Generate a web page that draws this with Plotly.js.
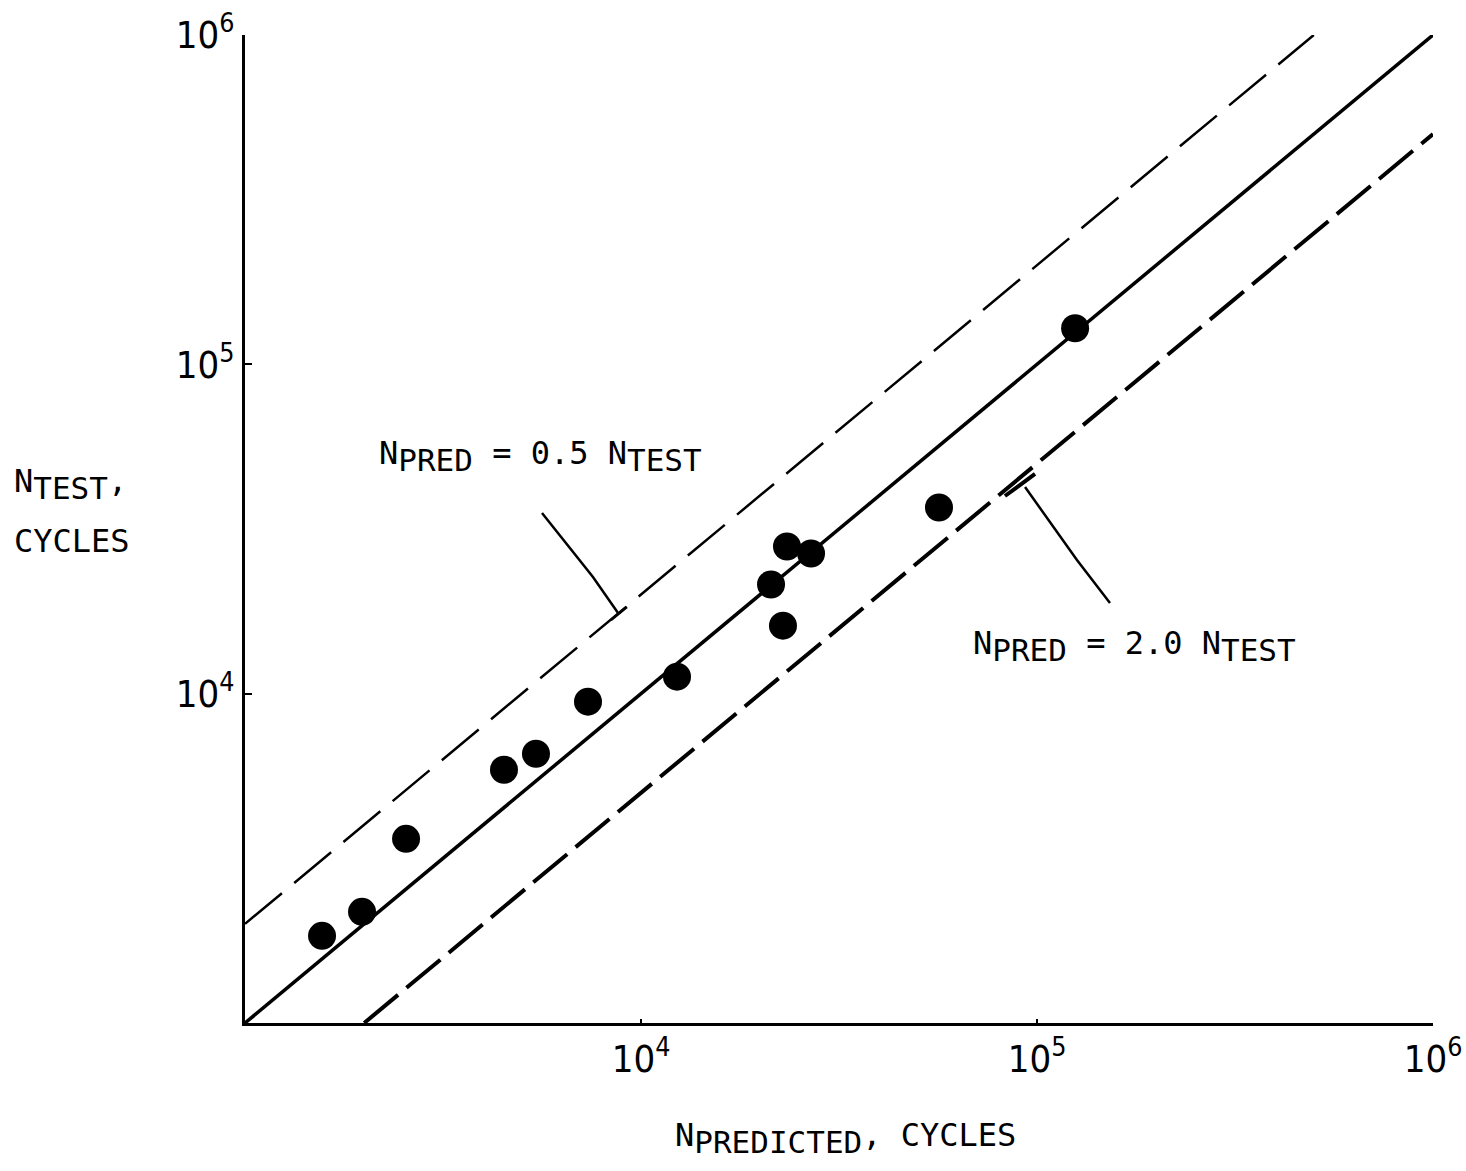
<!DOCTYPE html>
<html>
<head>
<meta charset="utf-8">
<script src="https://cdn.plot.ly/plotly-3.0.1.min.js"></script>
<style>
  html, body { margin: 0; padding: 0; background: #fff; }
  #chart { width: 1466px; height: 1171px; }
</style>
</head>
<body>
<div id="chart"></div>
<script>
// ---- data ----
const nPredicted = [1565, 1975, 2551, 4508, 5430, 7348, 12330, 21300, 23370, 26880, 22830, 56560, 124800];
const nTest      = [1839, 2175, 3625, 5875, 6570, 9456, 11260, 21450, 27980, 26640, 16090, 36750, 128700];

// reference lines N_PRED = k * N_TEST
const unityX = [1e3, 1e6];
const unityY = [1e3, 1e6];
const halfX  = [1e3, 5e5];     // N_PRED = 0.5 N_TEST
const halfY  = [2e3, 1e6];
const twiceX = [2e3, 1e6];     // N_PRED = 2.0 N_TEST
const twiceY = [1e3, 5e5];

const tickVals = [1e4, 1e5, 1e6];
const tickText = ['10<sup>4</sup>', '10<sup>5</sup>', '10<sup>6</sup>'];

const TICKFONT = '"Liberation Sans Narrow", "DejaVu Sans Condensed", "Liberation Sans", sans-serif';
const FONT = '"DejaVu Sans Mono", "Liberation Mono", monospace';
const SUB = (s) => '<sub><span style="font-size:31px">' + s + '</span></sub>';

const traces = [
  { x: unityX, y: unityY, mode: 'lines', line: { color: '#000', width: 3.5 }, hoverinfo: 'skip' },
  { x: halfX, y: halfY, mode: 'lines', line: { color: '#000', width: 2.5, dash: '48px,16px' }, hoverinfo: 'skip' },
  { x: twiceX, y: twiceY, mode: 'lines', line: { color: '#000', width: 4, dash: '44px,11px' }, hoverinfo: 'skip' },
  { x: nPredicted, y: nTest, mode: 'markers', marker: { color: '#000', size: 28 }, hoverinfo: 'x+y' }
];

// pixel -> paper helpers for annotation/leader placement
const L = 245, R = 1433, T = 35, B = 1023;
const px = (x) => (x - L) / (R - L);
const py = (y) => (B - y) / (B - T);

const leader = (pts, w) => ({
  type: 'path', xref: 'paper', yref: 'paper',
  path: 'M ' + pts.map(p => px(p[0]).toFixed(4) + ',' + py(p[1]).toFixed(4)).join(' L '),
  line: { color: '#000', width: w }
});

const note = (x, y, text, xanchor) => ({
  xref: 'paper', yref: 'paper', x: px(x), y: py(y),
  xanchor: xanchor || 'center', yanchor: 'middle', showarrow: false,
  text: text, font: { family: FONT, size: 32, color: '#000' }
});

const layout = {
  width: 1466, height: 1171,
  margin: { l: L, r: 1466 - R, t: T, b: 1171 - B },
  paper_bgcolor: '#fff', plot_bgcolor: '#fff',
  showlegend: false,
  font: { family: FONT, color: '#000', size: 32 },
  xaxis: {
    type: 'log', range: [3, 6],
    showgrid: false, zeroline: false,
    showline: true, linecolor: '#000', linewidth: 3,
    ticks: 'inside', ticklen: 4, tickwidth: 2, tickcolor: '#000',
    tickvals: tickVals, ticktext: tickText,
    tickfont: { family: TICKFONT, size: 38, color: '#000' }
  },
  yaxis: {
    type: 'log', range: [3, 6],
    showgrid: false, zeroline: false,
    showline: true, linecolor: '#000', linewidth: 3,
    ticks: 'inside', ticklen: 7, tickwidth: 2, tickcolor: '#000',
    tickvals: tickVals, ticktext: tickText,
    tickfont: { family: TICKFONT, size: 38, color: '#000' }
  },
  annotations: [
    note(540, 456, 'N' + SUB('PRED') + ' = 0.5 N' + SUB('TEST')),
    note(1134, 646, 'N' + SUB('PRED') + ' = 2.0 N' + SUB('TEST')),
    note(12, 484, 'N' + SUB('TEST') + ',', 'left'),
    note(12, 541, 'CYCLES', 'left'),
    note(845, 1138, 'N' + SUB('PREDICTED') + ', CYCLES')
  ],
  shapes: [
    leader([[542, 513], [593, 577], [618, 613]], 2.5),
    leader([[611, 620], [627, 607]], 2.5),
    leader([[1025, 487], [1077, 560], [1110, 603]], 2.5),
    leader([[1005, 496], [1035, 474]], 4)
  ]
};

Plotly.newPlot('chart', traces, layout, { displayModeBar: false, staticPlot: true });
</script>
</body>
</html>
